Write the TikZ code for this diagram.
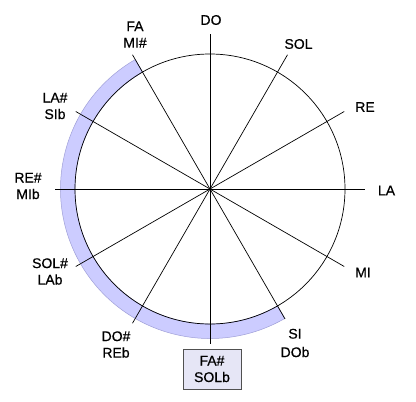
\documentclass[tikz,border=0pt]{standalone}
\usepackage{fontspec}
\setmainfont{Liberation Sans}
\newfontfamily\lblfont[FakeBold=0.5]{Liberation Sans}
\usetikzlibrary{calc}
\begin{document}
\begin{tikzpicture}[x=1pt,y=1pt,
  lbl/.style={align=center,inner sep=0pt,font=\lblfont\fontsize{14}{16.5}\selectfont},
  spoke/.style={draw=black,line width=0.7pt},
  bandfill/.style={fill=band,draw=bandedge,line width=0.5pt}]
\definecolor{band}{HTML}{CCCCFF}
\definecolor{bandedge}{HTML}{A0A0D8}
\definecolor{boxfill}{HTML}{E6E6F6}
\definecolor{boxedge}{HTML}{505050}
\useasboundingbox (0,0) rectangle (416,-402);
\fill[white] (0,0) rectangle (416,-402);
\coordinate (c) at (210,-189);
% band
\path[bandfill] ($(c)+(120:135)$) arc[start angle=120,end angle=300,radius=135]
  -- ($(c)+(300:149.5)$) arc[start angle=300,end angle=120,radius=149.5] -- cycle;
% circle
\draw[line width=0.7pt] (c) circle[radius=135];
% spoke ends
\foreach \a/\n in {90/e0,60/e1,30/e2,0/e3,-30/e4,-90/e6,-120/e7,-150/e8,180/e9,150/e10,120/e11}
  {\coordinate (\n) at ($(c)+(\a:155)$);}
\coordinate (e5) at ($(c)+(-60:150)$);
\foreach \n in {e0,e1,e2,e3,e4,e5,e6,e7,e8,e9,e10,e11}
  {\draw[spoke] (c) -- (\n);}
% labels
\node[lbl] (l0) at (211,-20) {DO};
\node[lbl] (l1) at (298.5,-44) {SOL};
\node[lbl] (l2) at (365,-107) {RE};
\node[lbl] (l3) at (386.5,-190.5) {LA};
\node[lbl] (l4) at (363,-272.5) {MI};
\node[lbl,font=\lblfont\fontsize{14}{18.5}\selectfont] (l5) at (295,-343) {SI\\DOb};
\node[lbl,draw=boxedge,fill=boxfill,line width=0.7pt,minimum width=58pt,minimum height=40pt] (l6) at (212,-369) {FA\#\\SOLb};
\node[lbl] (l7) at (116,-344.5) {DO\#\\REb};
\node[lbl] (l8) at (50,-271.5) {SOL\#\\LAb};
\node[lbl] (l9) at (28,-186) {RE\#\\MIb};
\node[lbl] (l10) at (55,-106) {LA\#\\SIb};
\node[lbl] (l11) at (135,-34.5) {FA\\MI\#};
\end{tikzpicture}
\end{document}
